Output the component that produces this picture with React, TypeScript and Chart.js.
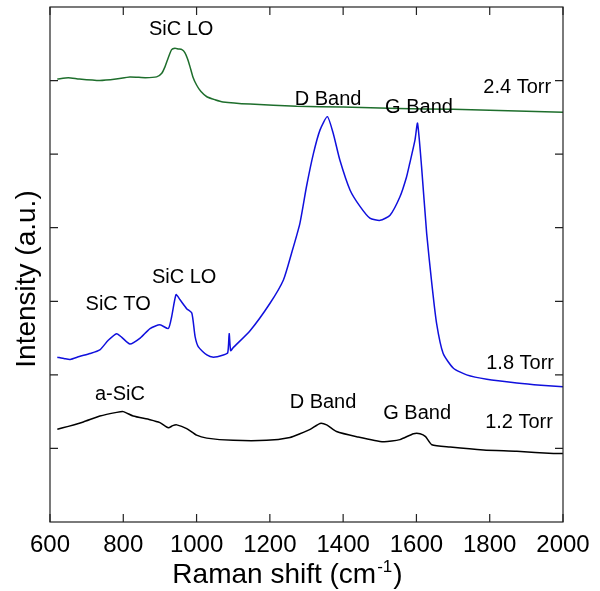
import React, { useEffect, useRef } from "react";
import { Chart, registerables } from "chart.js";

Chart.register(...registerables);

const FONT = "'Liberation Sans', Arial, Helvetica, sans-serif";

// x axis ticks (Raman shift, cm-1) and y tick marks (no labels)
const xTickValues = [600, 800, 1000, 1200, 1400, 1600, 1800, 2000];
const yTickValues = [1, 2, 3, 4, 5, 6];

// 2.4 Torr (green)
const shift24 = [620, 650, 680, 736, 780, 818, 860, 891, 905, 914, 922, 932, 941, 950, 960, 968, 975, 982, 990, 1000, 1012, 1028, 1050, 1072, 1146, 1273, 1400, 1550, 1700, 1850, 2000];
const int24 = [6.02, 6.04, 6.02, 6.00, 6.02, 6.05, 6.04, 6.05, 6.10, 6.19, 6.30, 6.42, 6.44, 6.43, 6.42, 6.38, 6.30, 6.19, 6.05, 5.94, 5.85, 5.78, 5.74, 5.71, 5.68, 5.65, 5.64, 5.62, 5.61, 5.59, 5.57];

// 1.8 Torr (blue)
const shift18 = [620, 640, 655, 680, 709, 736, 759, 782, 796, 818, 846, 873, 900, 923, 932, 944, 955, 973, 987, 996, 1005, 1028, 1046, 1073, 1085, 1089, 1093, 1100, 1146, 1200, 1237, 1259, 1282, 1300, 1319, 1337, 1357, 1373, 1391, 1419, 1446, 1473, 1501, 1528, 1555, 1573, 1582, 1596, 1603, 1614, 1628, 1642, 1655, 1673, 1701, 1737, 1792, 1874, 1940, 2000];
const int18 = [2.24, 2.22, 2.21, 2.25, 2.29, 2.34, 2.47, 2.56, 2.51, 2.42, 2.50, 2.63, 2.68, 2.63, 2.79, 3.09, 3.02, 2.90, 2.84, 2.52, 2.38, 2.27, 2.24, 2.27, 2.30, 2.56, 2.33, 2.37, 2.60, 2.97, 3.29, 3.65, 4.06, 4.56, 5.01, 5.33, 5.51, 5.28, 4.92, 4.51, 4.29, 4.13, 4.10, 4.17, 4.42, 4.69, 4.88, 5.19, 5.42, 4.83, 3.92, 3.24, 2.70, 2.29, 2.09, 2.00, 1.94, 1.89, 1.86, 1.84];

// 1.2 Torr (black)
const shift12 = [620, 650, 691, 736, 782, 800, 827, 873, 900, 923, 935, 946, 973, 1000, 1028, 1100, 1191, 1255, 1282, 1310, 1337, 1355, 1382, 1437, 1510, 1555, 1592, 1610, 1625, 1642, 1692, 1783, 1874, 1974, 2000];
const int12 = [1.26, 1.30, 1.36, 1.44, 1.49, 1.50, 1.44, 1.39, 1.35, 1.28, 1.31, 1.32, 1.27, 1.18, 1.14, 1.11, 1.11, 1.15, 1.20, 1.26, 1.34, 1.32, 1.23, 1.16, 1.09, 1.12, 1.20, 1.20, 1.16, 1.05, 1.02, 0.98, 0.96, 0.93, 0.93];

// annotations (text, position in data coordinates)
const noteTexts = ["SiC LO", "D Band", "G Band", "2.4 Torr", "SiC LO", "SiC TO", "1.8 Torr", "a-SiC", "D Band", "G Band", "1.2 Torr"];
const noteShift = [958, 1359, 1607, 1875, 966, 786, 1883, 791, 1345, 1602, 1880];
const noteInt = [6.69, 5.74, 5.64, 5.91, 3.33, 2.95, 2.16, 1.74, 1.62, 1.48, 1.35];

const toPoints = (xs: number[], ys: number[]) => xs.map((x, i) => ({ x, y: ys[i] }));

const decor = {
  id: "decor",
  afterDatasetsDraw(chart: any) {
    const { ctx, chartArea: a } = chart;
    const xs = chart.scales.x;
    const ys = chart.scales.y;
    ctx.save();
    ctx.strokeStyle = "#222";
    ctx.lineWidth = 1.2;
    ctx.strokeRect(a.left, a.top, a.right - a.left, a.bottom - a.top);
    ctx.beginPath();
    for (const v of xTickValues) {
      const px = xs.getPixelForValue(v);
      ctx.moveTo(px, a.bottom);
      ctx.lineTo(px, a.bottom - 8);
      ctx.moveTo(px, a.top);
      ctx.lineTo(px, a.top + 8);
    }
    for (const v of yTickValues) {
      const py = ys.getPixelForValue(v);
      ctx.moveTo(a.left, py);
      ctx.lineTo(a.left + 8, py);
      ctx.moveTo(a.right, py);
      ctx.lineTo(a.right - 8, py);
    }
    ctx.stroke();

    ctx.fillStyle = "#000";
    ctx.font = `20px ${FONT}`;
    ctx.textAlign = "center";
    ctx.textBaseline = "middle";
    noteTexts.forEach((t, i) => {
      ctx.fillText(t, xs.getPixelForValue(noteShift[i]), ys.getPixelForValue(noteInt[i]));
    });

    // x title with superscript
    ctx.textAlign = "left";
    ctx.textBaseline = "alphabetic";
    const mainTxt = "Raman shift (cm";
    ctx.font = `28px ${FONT}`;
    const w1 = ctx.measureText(mainTxt).width;
    ctx.font = `17px ${FONT}`;
    const w2 = ctx.measureText("-1").width;
    ctx.font = `28px ${FONT}`;
    const w3 = ctx.measureText(")").width;
    const total = w1 + w2 + w3;
    const cx = (a.left + a.right) / 2 - 20;
    const startX = cx - total / 2;
    const baseY = a.bottom + 61;
    ctx.fillText(mainTxt, startX, baseY);
    ctx.font = `17px ${FONT}`;
    ctx.fillText("-1", startX + w1 + 1, baseY - 11);
    ctx.font = `28px ${FONT}`;
    ctx.fillText(")", startX + w1 + w2 + 2, baseY);

    // y title
    ctx.translate(a.left - 15, a.top + 272);
    ctx.rotate(-Math.PI / 2);
    ctx.textAlign = "center";
    ctx.fillText("Intensity (a.u.)", 0, 0);
    ctx.restore();
  },
};

export default function App() {
  const ref = useRef<HTMLCanvasElement | null>(null);
  useEffect(() => {
    if (!ref.current) return;
    const common = { pointRadius: 0, borderWidth: 1.5, tension: 0.2, fill: false };
    const chart = new Chart(ref.current, {
      type: "line",
      data: {
        datasets: [
          { label: "2.4 Torr", data: toPoints(shift24, int24), borderColor: "#1e6e2c", ...common },
          { label: "1.8 Torr", data: toPoints(shift18, int18), borderColor: "#1010dd", ...common },
          { label: "1.2 Torr", data: toPoints(shift12, int12), borderColor: "#000000", ...common },
        ],
      },
      options: {
        animation: false,
        responsive: true,
        maintainAspectRatio: false,
        layout: { padding: { top: 7, right: 37, left: 0, bottom: 0 } },
        plugins: { legend: { display: false }, tooltip: { enabled: false } },
        scales: {
          x: {
            type: "linear",
            min: 600,
            max: 2000,
            grid: { display: false, drawTicks: false },
            border: { display: false },
            ticks: {
              stepSize: 200,
              color: "#000",
              padding: 9,
              maxRotation: 0,
              font: { family: FONT, size: 24 },
              callback: (v: any) => String(v),
            },
            afterFit: (s: any) => {
              s.height = 69;
            },
          },
          y: {
            type: "linear",
            min: 0,
            max: 7,
            grid: { display: false, drawTicks: false },
            border: { display: false },
            ticks: { display: false, stepSize: 1 },
            afterFit: (s: any) => {
              s.width = 50;
            },
          },
        },
      },
      plugins: [decor],
    });
    return () => chart.destroy();
  }, []);
  return (
    <div style={{ position: "absolute", left: 0, top: 0, width: 600, height: 591 }}>
      <canvas ref={ref} />
    </div>
  );
}
